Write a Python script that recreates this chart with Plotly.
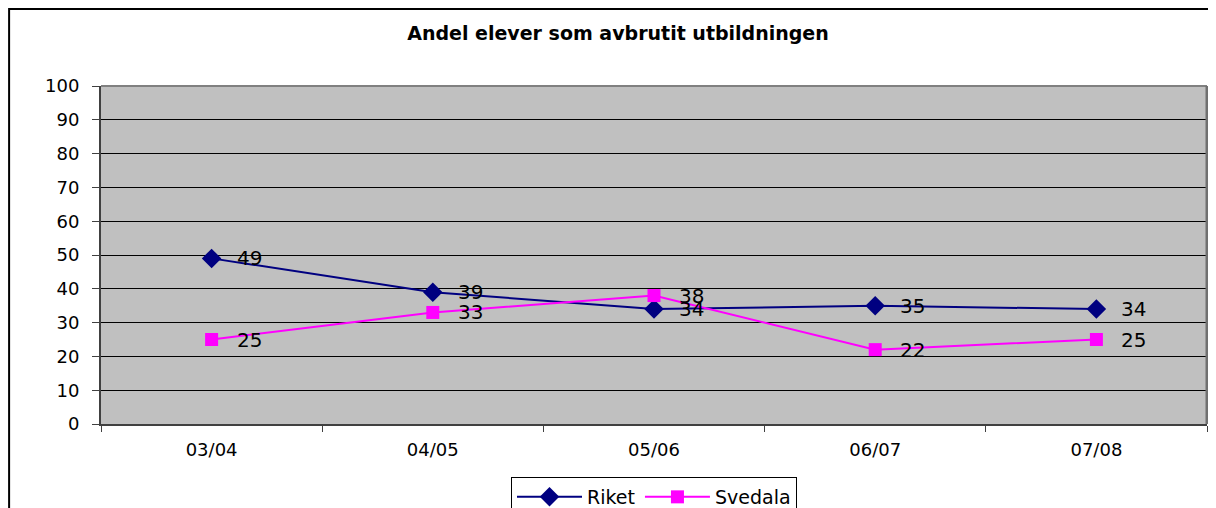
import plotly.graph_objects as go

categories = ["03/04", "04/05", "05/06", "06/07", "07/08"]
riket = [49, 39, 34, 35, 34]
svedala = [25, 33, 38, 22, 25]
y_ticks = [0, 10, 20, 30, 40, 50, 60, 70, 80, 90, 100]
title_text = "Andel elever som avbrutit utbildningen"

FONT = "DejaVu Sans"

# page body has an 8px margin; figure is sized/placed to compensate
W, H = 1208, 500
ML, MR, MT, MB = 93, 9, 78, 84
PW, PH = W - ML - MR, H - MT - MB

fig = go.Figure()
fig.add_trace(go.Scatter(
    x=categories, y=riket, name="Riket", mode="lines+markers",
    line=dict(color="#000080", width=2),
    marker=dict(symbol="diamond", size=15, color="#000080"),
))
fig.add_trace(go.Scatter(
    x=categories, y=svedala, name="Svedala", mode="lines+markers",
    line=dict(color="#FF00FF", width=2),
    marker=dict(symbol="square", size=13, color="#FF00FF"),
))

for series in (riket, svedala):
    for c, v in zip(categories, series):
        fig.add_annotation(x=c, y=v, text=str(v), showarrow=False,
                           xanchor="left", yanchor="middle", xshift=23,
                           font=dict(family=FONT, size=20, color="black"))

# outer chart border (left/top visible, rest cut off)
fig.add_shape(type="rect", xref="paper", yref="paper",
              x0=-ML / PW + 0.001, x1=1.05, y0=-0.4, y1=1 + MT / PH - 0.003,
              line=dict(color="black", width=2), layer="below")
# plot area top/right border
fig.add_shape(type="line", xref="paper", yref="paper", x0=0, x1=1, y0=1, y1=1,
              line=dict(color="#808080", width=2))
fig.add_shape(type="line", xref="paper", yref="paper", x0=1, x1=1, y0=0, y1=1,
              line=dict(color="#707070", width=3))

fig.update_layout(
    width=W, height=H,
    margin=dict(l=ML, r=MR, t=MT, b=MB, autoexpand=False),
    paper_bgcolor="white",
    plot_bgcolor="#C0C0C0",
    title=dict(text="<b>" + title_text + "</b>", x=610 / W, xref="container",
               xanchor="center", y=1 - 25 / H, yanchor="middle",
               font=dict(family=FONT, size=19, color="black")),
    showlegend=True,
    legend=dict(orientation="h", x=0.5, xanchor="center", y=-53 / PH, yanchor="top",
                bgcolor="white", bordercolor="black", borderwidth=1,
                font=dict(family=FONT, size=19, color="black"),
                itemwidth=65, tracegroupgap=0),
    font=dict(family=FONT, color="black"),
)
fig.update_xaxes(
    type="category", range=[-0.5, 4.5], tickson="boundaries",
    ticks="outside", ticklen=6, tickcolor="#404040",
    showline=True, linecolor="#404040", linewidth=2,
    showgrid=False, tickfont=dict(family=FONT, size=18),
    ticklabelstandoff=8,
)
fig.update_yaxes(
    range=[0, 100], tickvals=y_ticks, ticks="outside", ticklen=7,
    tickcolor="#404040", showline=True, linecolor="#404040", linewidth=2,
    showgrid=True, gridcolor="black", gridwidth=1, zeroline=False,
    tickfont=dict(family=FONT, size=18), ticklabelstandoff=9,
)

fig.write_html("out.html")
